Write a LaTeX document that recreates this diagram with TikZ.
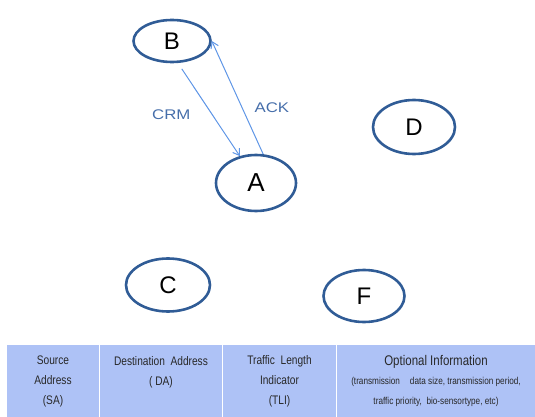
\documentclass[tikz,border=0pt]{standalone}
\usepackage{fontspec}
\setmainfont{Liberation Sans}
\newfontfamily\narrowfont[FakeStretch=0.82]{Liberation Sans}
\newfontfamily\widefont[FakeStretch=1.2]{Liberation Sans}
\usetikzlibrary{arrows.meta,shapes.geometric}
\definecolor{ringblue}{RGB}{48,92,150}
\definecolor{msgblue}{RGB}{95,150,230}
\definecolor{labelblue}{RGB}{70,110,170}
\definecolor{cellblue}{RGB}{174,194,246}
\definecolor{celltext}{RGB}{40,40,40}

\begin{document}
\begin{tikzpicture}[x=1pt,y=-1pt,
  sensor/.style={ellipse,draw=ringblue,line width=2.6pt,inner sep=0pt,font=\fontsize{24}{24}\selectfont},
  msg/.style={draw=msgblue,line width=1pt,-{Straight Barb[length=6pt,width=8pt]}},
  msglabel/.style={text=labelblue,inner sep=0pt,font=\widefont\fontsize{14}{14}\selectfont},
  cell/.style={rectangle,fill=cellblue,draw=white,line width=1pt,anchor=north west,
    minimum height=73pt,inner sep=0pt,align=center,text=celltext,
    font=\narrowfont\fontsize{12.4}{20}\selectfont}]
\useasboundingbox (0,0) rectangle (535,417);
% sensor nodes
\node[sensor,minimum width=77pt,minimum height=42pt] (B) at (172,41) {B};
\node[sensor,minimum width=80pt,minimum height=56pt,font=\fontsize{26}{26}\selectfont] (A) at (256,183) {A};
\node[sensor,minimum width=82pt,minimum height=54pt] (D) at (414,127) {D};
\node[sensor,minimum width=84pt,minimum height=53pt] (C) at (168,285) {C};
\node[sensor,minimum width=81pt,minimum height=52pt] (F) at (364,296) {F};
% messages
\draw[msg,shorten <=7pt] (B.-75) -- (A.121) node[msglabel,pos=0.55,left=21pt] (crm) {CRM};
\draw[msg] (A.76) -- (B.east) node[msglabel,pos=0.41,right=12pt] (ack) {ACK};
% frame fields
\node[cell,minimum width=93pt] (sa) at (6,344) {Source\\Address\\(SA)};
\node[cell,minimum width=123pt] (da) at (99,344) {Destination\ \ Address\\( DA)\\\mbox{}};
\node[cell,minimum width=114pt] (tli) at (222,344) {Traffic\ \ Length\\Indicator\\(TLI)};
\node[cell,minimum width=199pt] (opt) at (336,344) {\fontsize{14}{20}\selectfont Optional Information\\[-1pt]
  \fontsize{10}{19.5}\selectfont (transmission\quad data size, transmission period,\\
  \fontsize{10}{19.5}\selectfont traffic priority,\ \ bio-sensortype, etc)};
\end{tikzpicture}
\end{document}
